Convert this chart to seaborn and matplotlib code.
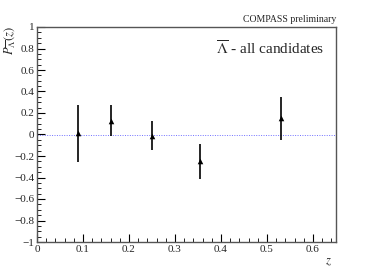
import matplotlib
matplotlib.use("Agg")
import matplotlib.pyplot as plt
from matplotlib.ticker import MultipleLocator, FuncFormatter
import pandas as pd
import seaborn as sns

z_vals = [0.09, 0.16, 0.25, 0.355, 0.53]
pol_vals = [0.01, 0.13, -0.01, -0.25, 0.15]
pol_errs = [0.265, 0.145, 0.135, 0.165, 0.20]

df = pd.DataFrame({"z": z_vals, "P": pol_vals, "err": pol_errs})

sns.set_style("ticks")
plt.rcParams["font.family"] = ["Liberation Serif", "DejaVu Serif"]
plt.rcParams["mathtext.fontset"] = "stix"

fig = plt.figure(figsize=(3.74, 2.69), dpi=100)
ax = fig.add_axes([37 / 374, 1 - 242 / 269, 299 / 374, 215 / 269])

ax.axhline(0, color="#7070ff", lw=0.7, ls=(0, (1, 1.5)), zorder=1)
ax.errorbar(df["z"], df["P"], yerr=df["err"], fmt="none", ecolor="black",
            elinewidth=1.2, capsize=0, zorder=2)
sns.scatterplot(data=df, x="z", y="P", marker="^", color="black", s=16,
                edgecolor="black", linewidth=0, ax=ax, zorder=3)


def fmt(v, pos):
    v = round(v, 2)
    if v == 0:
        return "0"
    return f"{v:g}".replace("-", "\u2212")


ax.set_xlim(0, 0.65)
ax.set_ylim(-1, 1)
ax.xaxis.set_major_locator(MultipleLocator(0.1))
ax.xaxis.set_minor_locator(MultipleLocator(0.02))
ax.yaxis.set_major_locator(MultipleLocator(0.2))
ax.yaxis.set_minor_locator(MultipleLocator(0.05))
ax.xaxis.set_major_formatter(FuncFormatter(fmt))
ax.yaxis.set_major_formatter(FuncFormatter(fmt))
ax.tick_params(which="both", direction="in", labelsize=8, pad=2,
               top=False, right=False, color="black")
ax.tick_params(which="major", length=6, width=0.8)
ax.tick_params(which="minor", length=3, width=0.6)
for s in ax.spines.values():
    s.set_color("#555555")
    s.set_linewidth(1.0)

ax.set_xlabel("")
ax.set_ylabel("")
fig.text(332 / 374, 1 - 262 / 269, "$z$", fontsize=9, ha="right", va="center")
fig.text(10 / 374, 1 - 40 / 269, r"$P_{\overline{\Lambda}}(z)$", fontsize=9,
         rotation=90, ha="center", va="center")
fig.text(336 / 374, 1 - 19 / 269, "COMPASS preliminary", fontsize=7,
         ha="right", va="center")
ax.text(0.96, 0.90, r"$\overline{\Lambda}$ - all candidates", fontsize=11,
        ha="right", va="center", transform=ax.transAxes)

fig.savefig("out.png", dpi=100)
